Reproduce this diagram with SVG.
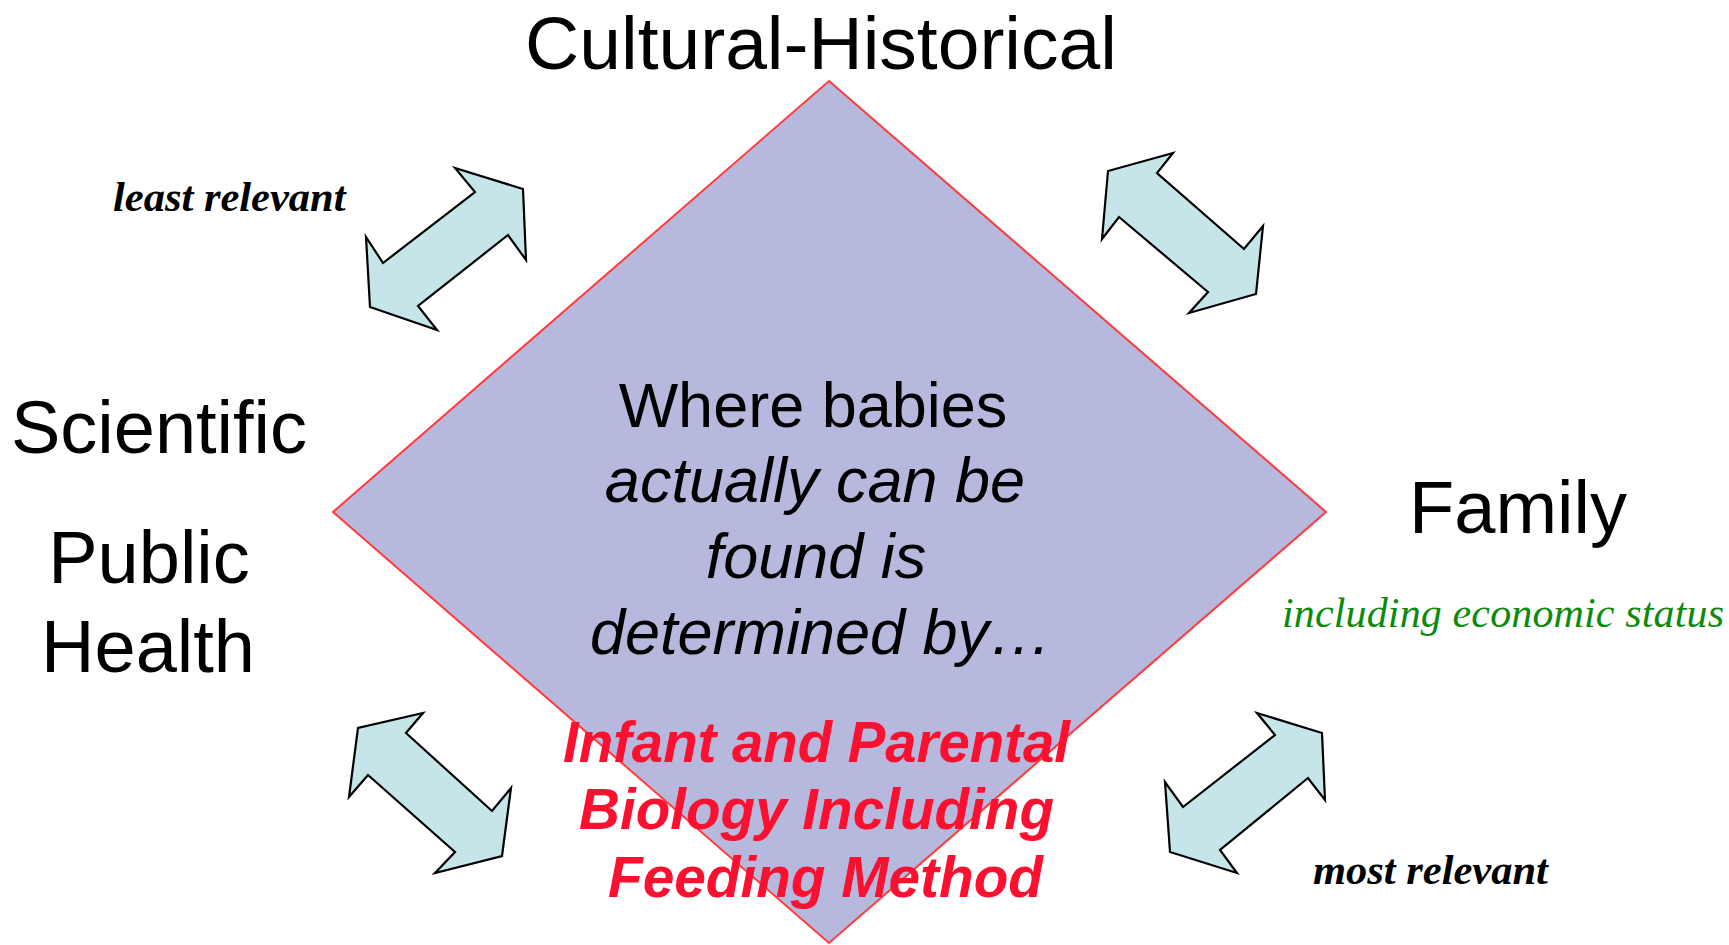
<svg xmlns="http://www.w3.org/2000/svg" width="1729" height="945" viewBox="0 0 1729 945">
<style>
.arrow{fill:#c5e5e8;stroke:#000;stroke-width:2.2;stroke-linejoin:miter}
.sans{font-family:"Liberation Sans",Arial,Helvetica,sans-serif;fill:#000}
.serif{font-family:"Liberation Serif","Times New Roman",serif}
.red{font-family:"Liberation Sans",Arial,sans-serif;font-weight:bold;font-style:italic;fill:#fb1030;font-size:58px}
</style>
<rect width="1729" height="945" fill="#fff"/>
<g id="center-diamond">
<polygon points="829,81 1326,512 829,943 333,512" fill="#b6b8dd" stroke="#ff3b3b" stroke-width="2"/>
<text class="sans" font-size="63" x="813" y="427" text-anchor="middle">Where babies</text>
<text class="sans" font-size="63" font-style="italic" x="815" y="502" text-anchor="middle">actually can be</text>
<text class="sans" font-size="63" font-style="italic" x="816" y="578" text-anchor="middle">found is</text>
<text class="sans" font-size="63" font-style="italic" x="821" y="654" text-anchor="middle">determined by…</text>
</g>
<g id="connectors">
<polygon class="arrow" points="455,168 523,189 526,260 508,235 418,306 437,330 370,307 366,237 383,263 475,192"/>
<polygon class="arrow" points="1173,153 1108,171 1102,239 1119,217 1208,292 1189,313 1256,294 1263,226 1244,249 1157,173"/>
<polygon class="arrow" points="423,713 358,728 349,797 368,775 455,852 435,873 502,856 511,788 492,811 406,733"/>
<polygon class="arrow" points="1257,713 1322,733 1325,800 1308,778 1220,850 1237,873 1170,852 1165,782 1183,807 1275,735"/>
</g>
<g id="cultural-historical">
<text class="sans" font-size="75" x="821" y="69" text-anchor="middle">Cultural-Historical</text>
</g>
<g id="least-relevant">
<text class="serif" font-size="42.5" font-weight="bold" font-style="italic" x="113" y="211">least relevant</text>
</g>
<g id="scientific">
<text class="sans" font-size="74" x="159" y="453" text-anchor="middle">Scientific</text>
</g>
<g id="public-health">
<text class="sans" font-size="74" x="149" y="583" text-anchor="middle">Public</text>
<text class="sans" font-size="74" x="148" y="672" text-anchor="middle">Health</text>
</g>
<g id="family">
<text class="sans" font-size="74" x="1518" y="533" text-anchor="middle">Family</text>
<text class="serif" font-size="42" font-style="italic" fill="#0b8a0b" x="1282" y="627" textLength="442" lengthAdjust="spacing">including economic status</text>
</g>
<g id="most-relevant">
<text class="serif" font-size="42.5" font-weight="bold" font-style="italic" x="1313" y="884">most relevant</text>
</g>
<g id="infant-biology">
<text class="red" x="563" y="762" textLength="507" lengthAdjust="spacingAndGlyphs">Infant and Parental</text>
<text class="red" x="579" y="829" textLength="475" lengthAdjust="spacingAndGlyphs">Biology Including</text>
<text class="red" x="608" y="897" textLength="435" lengthAdjust="spacingAndGlyphs">Feeding Method</text>
</g>
</svg>
